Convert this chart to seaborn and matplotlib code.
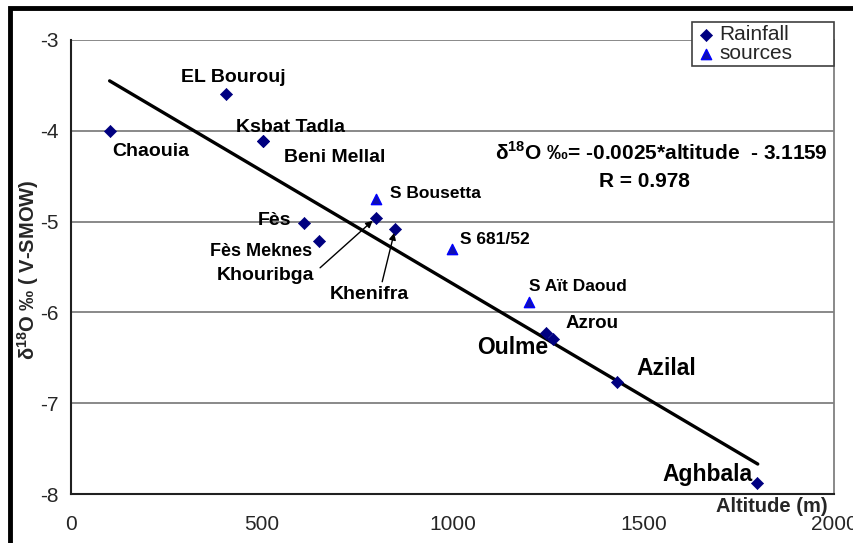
import matplotlib
matplotlib.use("Agg")
import matplotlib.pyplot as plt
from matplotlib.patches import Rectangle
import seaborn as sns
import numpy as np

# ---- data ----
rain_names = ["Chaouia", "EL Bourouj", "Ksbat Tadla", "Beni Mellal", "Fès", "Fès Meknes",
              "Khouribga", "Khenifra", "Oulme", "Azrou", "Azilal", "Aghbala"]
rain_alt = [100, 404, 503, 503, 609, 649, 798, 849, 1245, 1262, 1430, 1798]
rain_d18o = [-4.00, -3.59, -4.11, -4.11, -5.01, -5.21, -4.96, -5.08, -6.23, -6.29, -6.77, -7.88]

src_names = ["S Bousetta", "S 681/52", "S Aït Daoud"]
src_alt = [798, 998, 1199]
src_d18o = [-4.75, -5.30, -5.89]

line_alt = [100, 1800]
line_d18o = [-3.45, -7.67]

x_ticks = [0, 500, 1000, 1500, 2000]
y_ticks = [-3, -4, -5, -6, -7, -8]

# ---- style ----
sns.set_style("white")
plt.rcParams["font.family"] = ["Liberation Sans", "DejaVu Sans"]
plt.rcParams["mathtext.fontset"] = "custom"
plt.rcParams["mathtext.rm"] = "Liberation Sans"
plt.rcParams["mathtext.bf"] = "Liberation Sans:bold"

W, H = 854, 543
fig = plt.figure(figsize=(W / 100, H / 100), dpi=100)
ax = fig.add_axes([71.5 / W, 1 - 494 / H, (834 - 71.5) / W, (494 - 40) / H])

navy = "#000080"
blue = "#0000FF"

for yv in y_ticks[:-1]:
    ax.axhline(yv, color="#808080", lw=1.3, zorder=0)

ax.plot(line_alt, line_d18o, color="black", lw=2.4, zorder=2)

sns.scatterplot(x=rain_alt, y=rain_d18o, marker="D", s=38, color=navy,
                edgecolor=navy, linewidth=0.5, ax=ax, label="Rainfall", zorder=3)
sns.scatterplot(x=src_alt, y=src_d18o, marker="^", s=55, color="#1010B0",
                edgecolor=blue, linewidth=1.0, ax=ax, label="sources", zorder=3)

ax.set_xlim(0, 2000)
ax.set_ylim(-8, -3)
ax.set_xticks(x_ticks)
ax.set_yticks(y_ticks)
ax.set_xticklabels([str(v) for v in x_ticks])
ax.set_yticklabels([str(v) for v in y_ticks])
ax.tick_params(axis="both", direction="out", length=7, width=1.3, color="#202020",
               labelsize=15, pad=2)
ax.tick_params(axis="x", pad=8)

for s in ["left", "bottom"]:
    ax.spines[s].set_color("#202020")
    ax.spines[s].set_linewidth(1.5)
ax.spines["top"].set_visible(False)
ax.spines["right"].set_color("#808080")
ax.spines["right"].set_linewidth(1.3)

# labels
bold = dict(fontweight="bold", color="black")
offs = {
    "Chaouia": (3, -21, "left", 14),
    "EL Bourouj": (-45, 16, "left", 14),
    "Ksbat Tadla": (-27, 13, "left", 14),
    "Beni Mellal": (21, -17, "left", 14),
    "Fès": (-12, 2, "right", 14),
    "Fès Meknes": (-7, -11, "right", 13),
    "Oulme": (2, -14, "right", 16.5),
    "Azrou": (13, 15, "left", 13.5),
    "Azilal": (20, 14, "left", 16.5),
    "Aghbala": (-4, 9, "right", 16.5),
    "S Bousetta": (14, 5, "left", 12.5),
    "S 681/52": (8, 9, "left", 12.5),
    "S Aït Daoud": (0, 16, "left", 12.5),
}
for n, xv, yv in zip(rain_names + src_names, rain_alt + src_alt, rain_d18o + src_d18o):
    if n in offs:
        dx, dy, ha, fs = offs[n]
        ax.annotate(n, (xv, yv), xytext=(dx, dy), textcoords="offset pixels",
                    ha=ha, va="center", fontsize=fs, **bold)

# arrow labels
i = rain_names.index("Khouribga")
ax.annotate("Khouribga", (rain_alt[i], rain_d18o[i]), xytext=(-61, -58),
            textcoords="offset pixels", ha="right", va="center", fontsize=14, **bold,
            arrowprops=dict(arrowstyle="-|>", color="black", lw=1.0, shrinkA=2, shrinkB=3,
                            relpos=(1.0, 0.7), mutation_scale=10))
i = rain_names.index("Khenifra")
ax.annotate("Khenifra", (rain_alt[i], rain_d18o[i]), xytext=(-26, -66),
            textcoords="offset pixels", ha="center", va="center", fontsize=14, **bold,
            arrowprops=dict(arrowstyle="-|>", color="black", lw=1.0, shrinkA=1, shrinkB=3,
                            relpos=(0.65, 1.0), mutation_scale=10))

# equation
ax.text(0.992, 0.753, r"δ$^{\mathbf{18}}$O ‰= -0.0025*altitude  - 3.1159",
        transform=ax.transAxes, ha="right", va="center", fontsize=15, **bold)
ax.text(0.752, 0.689, "R = 0.978", transform=ax.transAxes, ha="center", va="center",
        fontsize=15, **bold)

# axis labels
ax.set_ylabel(r"δ$^{\mathbf{18}}$O ‰ ( V-SMOW)", fontsize=14.5, fontweight="bold",
              va="center")
ax.yaxis.set_label_coords(-0.057, 0.495)
ax.set_xlabel("Altitude (m)", fontsize=14.5, fontweight="bold", ha="right", va="center")
ax.xaxis.set_label_coords(0.991, -0.027)

leg = ax.legend(loc="upper left", bbox_to_anchor=(0.814, 0.927, 0.186, 0.1126),
                mode="expand", fontsize=15,
                frameon=True, fancybox=False, edgecolor="#404040", framealpha=1,
                labelspacing=0.0, handletextpad=0.15, borderpad=0.15,
                handlelength=1.0, borderaxespad=0)
leg.get_frame().set_linewidth(1.2)

# outer frame
fig.patches.append(Rectangle((10.5 / W, -0.2), 1.5, 1.2 - 7.5 / H, transform=fig.transFigure,
                             fill=False, lw=3.5, edgecolor="black", clip_on=False))

fig.savefig("out.png", dpi=100)
